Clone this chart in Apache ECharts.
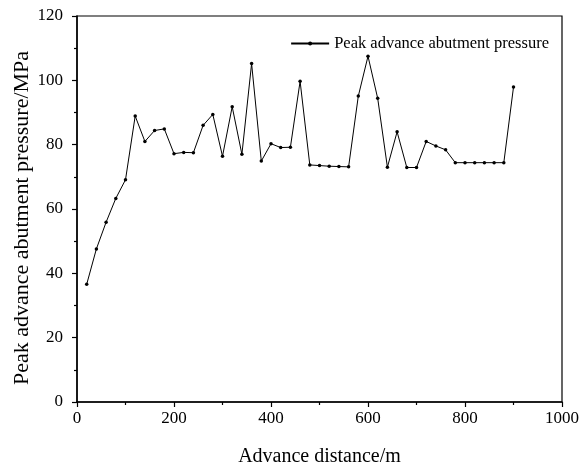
<!DOCTYPE html>
<html>
<head>
<meta charset="UTF-8">
<title>Peak advance abutment pressure</title>
<style>
    html, body { margin: 0; padding: 0; background: #fff; }
    #chart { width: 579px; height: 469px; }
</style>
</head>
<body>
<div id="chart"></div>
<script src="https://cdn.jsdelivr.net/npm/echarts@6/dist/echarts.min.js"></script>
<script>
var distance = [20, 40, 60, 80, 100, 120, 140, 160, 180, 200, 220, 240, 260, 280, 300, 320, 340, 360,
    380, 400, 420, 440, 460, 480, 500, 520, 540, 560, 580, 600, 620, 640, 660, 680, 700, 720, 740,
    760, 780, 800, 820, 840, 860, 880, 900];
var pressure = [36.6, 47.6, 55.9, 63.3, 69.1, 88.9, 81.0, 84.4, 84.9, 77.2, 77.6, 77.5, 86.0, 89.4,
    76.4, 91.8, 77.0, 105.2, 74.9, 80.3, 79.1, 79.2, 99.7, 73.7, 73.5, 73.3, 73.2, 73.1, 95.1, 107.5,
    94.4, 73.0, 84.0, 72.9, 72.9, 81.0, 79.6, 78.4, 74.4, 74.4, 74.4, 74.4, 74.4, 74.4, 97.9];
var seriesName = 'Peak advance abutment pressure';

var chart = echarts.init(document.getElementById('chart'));
var font = 'Liberation Serif';
var pts = [];
for (var i = 0; i < distance.length; i++) pts.push([distance[i], pressure[i]]);

chart.setOption({
    animation: false,
    textStyle: { fontFamily: font },
    grid: {
        left: 77, right: 17, top: 16, bottom: 67,
        containLabel: false, outerBoundsMode: 'none',
        show: true, borderColor: '#000', borderWidth: 1.2
    },
    legend: {
        data: [seriesName],
        top: 30, right: 25,
        itemWidth: 38, itemHeight: 5, itemGap: 5,
        textStyle: { fontFamily: font, fontSize: 16.5, color: '#000' }
    },
    xAxis: {
        type: 'value', min: 0, max: 1000, interval: 200,
        name: 'Advance distance/m', nameLocation: 'middle', nameGap: 45,
        nameTextStyle: { fontFamily: font, fontSize: 20, color: '#000' },
        axisLine: { lineStyle: { color: '#000', width: 1.5 } },
        axisTick: { length: 5, lineStyle: { color: '#000', width: 1.2 } },
        minorTick: { show: true, splitNumber: 2, length: 3, lineStyle: { color: '#000', width: 1.2 } },
        axisLabel: {
            fontFamily: font, fontSize: 17, color: '#000', margin: 8,
            formatter: function (v) { return String(v); }
        },
        splitLine: { show: false }
    },
    yAxis: {
        type: 'value', min: 0, max: 120, interval: 20,
        name: 'Peak advance abutment pressure/MPa', nameLocation: 'middle', nameGap: 44,
        nameMoveOverlap: false,
        nameTextStyle: { fontFamily: font, fontSize: 22, color: '#000', padding: [0, 18, 0, 0] },
        axisLine: { show: true, lineStyle: { color: '#000', width: 1.5 } },
        axisTick: { show: true, length: 5, lineStyle: { color: '#000', width: 1.2 } },
        minorTick: { show: true, splitNumber: 2, length: 3, lineStyle: { color: '#000', width: 1.2 } },
        axisLabel: { fontFamily: font, fontSize: 17, color: '#000', margin: 14 },
        splitLine: { show: false }
    },
    series: [{
        name: seriesName,
        type: 'line',
        data: pts,
        symbol: 'circle',
        symbolSize: 3.5,
        lineStyle: { color: '#000', width: 1 },
        itemStyle: { color: '#000' }
    }]
});
</script>
</body>
</html>
